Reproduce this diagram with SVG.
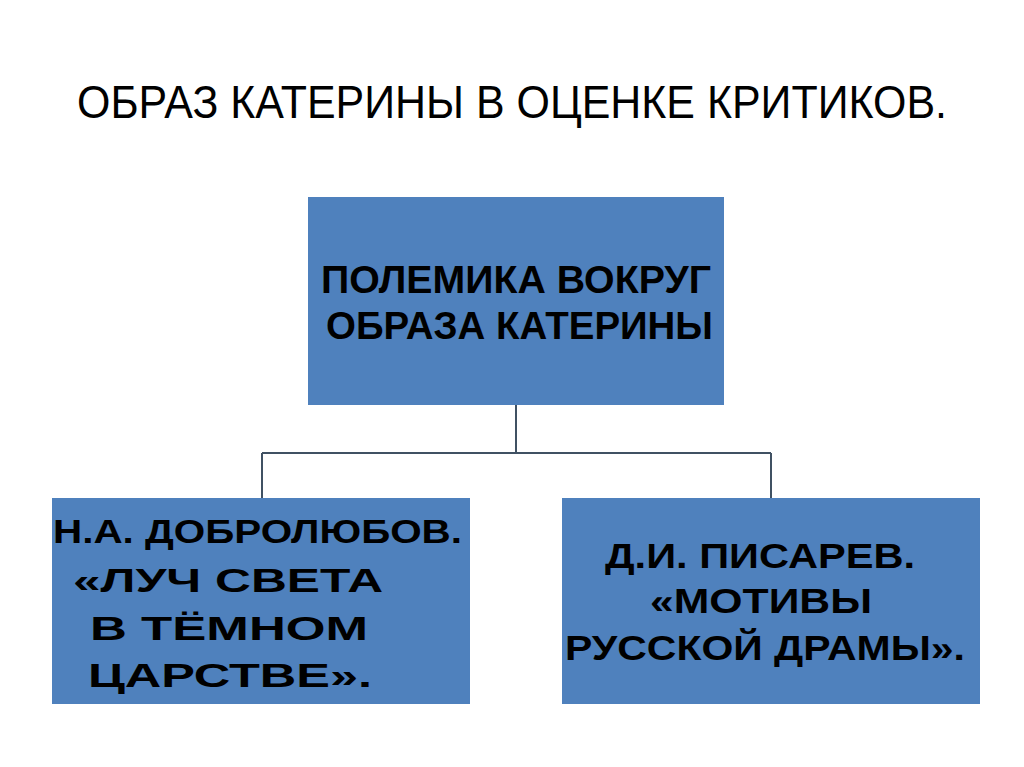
<svg xmlns="http://www.w3.org/2000/svg" width="1024" height="767" viewBox="0 0 1024 767">
<style>
.box{fill:#4f81bd;}
.t{font-family:"Liberation Sans",Arial,sans-serif;font-weight:bold;fill:#000;}
.title{font-family:"Liberation Sans",Arial,sans-serif;fill:#000;}
.conn{fill:none;stroke:#405163;stroke-width:2;}
</style>
<rect x="0" y="0" width="1024" height="767" fill="#fff"/>
<text class="title" x="77" y="118" font-size="47" textLength="870" lengthAdjust="spacingAndGlyphs">ОБРАЗ КАТЕРИНЫ В ОЦЕНКЕ КРИТИКОВ.</text>
<g id="connectors">
<path class="conn" d="M516 405 V453 M262 453 H771 M262 453 V498 M771 453 V498"/>
</g>
<g id="node-top">
<rect class="box" x="308" y="197" width="416" height="208"/>
<text class="t" x="321" y="293" font-size="39" textLength="390" lengthAdjust="spacingAndGlyphs">ПОЛЕМИКА ВОКРУГ</text>
<text class="t" x="326" y="339" font-size="39" textLength="387" lengthAdjust="spacingAndGlyphs">ОБРАЗА  КАТЕРИНЫ</text>
</g>
<g id="node-left">
<rect class="box" x="52" y="498" width="418" height="206"/>
<text class="t" x="53" y="543" font-size="34" textLength="409" lengthAdjust="spacingAndGlyphs">Н.А. ДОБРОЛЮБОВ.</text>
<text class="t" x="73" y="592" font-size="34" textLength="310" lengthAdjust="spacingAndGlyphs">«ЛУЧ СВЕТА</text>
<text class="t" x="90" y="640" font-size="34" textLength="278" lengthAdjust="spacingAndGlyphs">В ТЁМНОМ</text>
<text class="t" x="88" y="687" font-size="34" textLength="284" lengthAdjust="spacingAndGlyphs">ЦАРСТВЕ».</text>
</g>
<g id="node-right">
<rect class="box" x="562" y="498" width="418" height="206"/>
<text class="t" x="605" y="568" font-size="35" textLength="310" lengthAdjust="spacingAndGlyphs">Д.И. ПИСАРЕВ.</text>
<text class="t" x="650" y="613" font-size="35" textLength="222" lengthAdjust="spacingAndGlyphs">«МОТИВЫ</text>
<text class="t" x="565" y="660" font-size="35" textLength="400" lengthAdjust="spacingAndGlyphs">РУССКОЙ ДРАМЫ».</text>
</g>
</svg>
